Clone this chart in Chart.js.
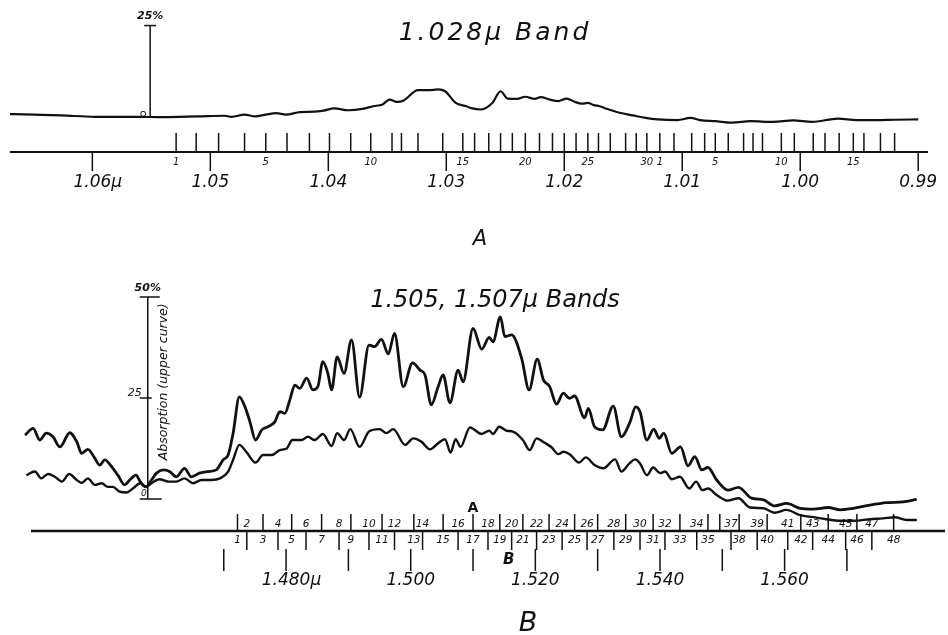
<!DOCTYPE html>
<html>
<head>
<meta charset="utf-8">
<script src="https://cdn.jsdelivr.net/npm/chart.js@4.4.1/dist/chart.umd.min.js"></script>
<style>
  body { margin: 0; background: #fff; width: 948px; height: 635px; overflow: hidden; }
  canvas { display: block; }
</style>
</head>
<body>
<canvas id="chartA" width="948" height="260"></canvas>
<canvas id="chartB" width="948" height="375"></canvas>
<script>
// ---- A: 1.028 micron band (wavelength in microns, absorption in %) ----
const aWave = [1.0675, 1.0649, 1.0626, 1.0598, 1.0563, 1.0540, 1.0511, 1.0488, 1.0482, 1.0471,
  1.0462, 1.0453, 1.0444, 1.0436, 1.0424, 1.0412, 1.0404, 1.0395, 1.0383, 1.0371,
  1.0362, 1.0354, 1.0348, 1.0342, 1.0336, 1.0324, 1.0315, 1.0307, 1.0301, 1.0292,
  1.0283, 1.0278, 1.0271, 1.0261, 1.0254, 1.0248, 1.0240, 1.0233, 1.0225, 1.0220,
  1.0212, 1.0205, 1.0198, 1.0191, 1.0185, 1.0180, 1.0175, 1.0170, 1.0164, 1.0153,
  1.0142, 1.0131, 1.0121, 1.0104, 1.0093, 1.0085, 1.0072, 1.0058, 1.0042, 1.0023,
  1.0006, 0.9990, 0.9968, 0.9952, 0.9936, 0.9920, 0.9900];
const aAbs = [0.8, 0.6, 0.4, 0.0, 0.0, -0.1, 0.1, 0.3, 0.0, 0.6,
  0.1, 0.6, 1.0, 0.6, 1.3, 1.4, 1.7, 2.3, 1.8, 2.2,
  2.9, 3.4, 4.7, 4.1, 4.5, 7.3, 7.3, 7.5, 7.0, 3.8,
  2.9, 2.3, 2.0, 3.8, 7.0, 5.0, 4.9, 5.5, 4.9, 5.4,
  4.7, 4.3, 5.0, 4.1, 3.6, 3.8, 3.2, 2.9, 2.2, 1.1,
  0.4, -0.3, -0.7, -0.9, -0.3, -0.9, -1.2, -1.6, -1.2, -1.4,
  -1.0, -1.4, -0.5, -0.9, -0.9, -0.8, -0.7];
const aLineNum = [1, 2, 3, 4, 5, 6, 7, 8, 9, 10, 11, 12, 13, 14, 15, 16, 17, 18, 19, 20,
  21, 22, 23, 24, 25, 26, 27, 28, 29, 30,
  1, 2, 3, 4, 5, 6, 7, 8, 9, 10, 11, 12, 13, 14, 15, 16, 17, 18];
const aLinePos = [1.0529, 1.0512, 1.0493, 1.0471, 1.0453, 1.0435, 1.0416, 1.0399, 1.0381, 1.0364,
  1.0346, 1.0338, 1.0324, 1.0303, 1.0286, 1.0276, 1.0264, 1.0254, 1.0244, 1.0233,
  1.0221, 1.0210, 1.0200, 1.0190, 1.0180, 1.0171, 1.0161, 1.0148, 1.0139, 1.0130,
  1.0119, 1.0107, 1.0092, 1.0081, 1.0072, 1.0061, 1.0048, 1.0040, 1.0032, 1.0016,
  1.0005, 0.9989, 0.9979, 0.9967, 0.9955, 0.9946, 0.9932, 0.9920];
const aTickValues = [1.06, 1.05, 1.04, 1.03, 1.02, 1.01, 1.00, 0.99];
const aTickLabels = ['1.06μ', '1.05', '1.04', '1.03', '1.02', '1.01', '1.00', '0.99'];
const aBarAt = 1.0551; // where the 25% scale bar stands

// ---- B: 1.505, 1.507 micron bands ----
const bUpWave = [1.4381, 1.4394, 1.4405, 1.4415, 1.4426, 1.4437, 1.4453, 1.4464, 1.4472, 1.4482,
  1.4493, 1.4501, 1.4509, 1.4520, 1.4530, 1.4541, 1.4549, 1.4559, 1.4566, 1.4575,
  1.4584, 1.4592, 1.4603, 1.4613, 1.4624, 1.4637, 1.4648, 1.4661, 1.4675, 1.4688,
  1.4699, 1.4707, 1.4715, 1.4725, 1.4734, 1.4742, 1.4751, 1.4761, 1.4771, 1.4782,
  1.4790, 1.4798, 1.4806, 1.4814, 1.4822, 1.4833, 1.4843, 1.4851, 1.4859, 1.4867,
  1.4873, 1.4882, 1.4893, 1.4905, 1.4918, 1.4933, 1.4942, 1.4953, 1.4964, 1.4974,
  1.4988, 1.5003, 1.5015, 1.5023, 1.5033, 1.5044, 1.5052, 1.5063, 1.5076, 1.5084,
  1.5100, 1.5114, 1.5126, 1.5132, 1.5144, 1.5151, 1.5162, 1.5178, 1.5190, 1.5203,
  1.5213, 1.5223, 1.5234, 1.5245, 1.5255, 1.5263, 1.5279, 1.5285, 1.5295, 1.5308,
  1.5325, 1.5338, 1.5352, 1.5361, 1.5368, 1.5379, 1.5390, 1.5399, 1.5406, 1.5419,
  1.5433, 1.5445, 1.5456, 1.5467, 1.5477, 1.5491, 1.5509, 1.5526, 1.5547, 1.5566,
  1.5584, 1.5603, 1.5625, 1.5646, 1.5670, 1.5689, 1.5710, 1.5737, 1.5764, 1.5790,
  1.5812];
const bUpper = [15.8, 17.5, 14.6, 16.3, 15.4, 12.9, 16.4, 14.2, 11.3, 12.3,
  10.1, 8.4, 9.7, 8.0, 5.9, 3.5, 4.7, 5.9, 4.3, 3.0,
  4.7, 6.4, 7.2, 6.8, 5.5, 7.6, 5.5, 6.4, 6.8, 7.2,
  9.7, 10.9, 16.3, 25.3, 22.8, 19.1, 14.6, 17.1, 17.9, 19.1,
  21.6, 21.2, 24.5, 28.2, 27.4, 29.9, 27.0, 27.8, 34.0, 31.1,
  27.0, 35.2, 31.1, 39.4, 25.2, 38.1, 37.7, 39.5, 35.9, 41.0,
  27.8, 33.7, 31.9, 30.7, 23.3, 27.8, 30.7, 23.8, 31.9, 29.0,
  42.2, 37.1, 40.0, 38.9, 45.1, 40.2, 40.6, 34.8, 27.0, 34.6,
  29.5, 27.8, 23.5, 26.2, 24.9, 25.5, 20.1, 22.4, 17.9, 17.1,
  23.0, 15.4, 19.1, 22.8, 21.6, 14.6, 17.3, 15.0, 16.3, 11.3,
  12.9, 8.2, 10.5, 7.2, 7.8, 4.7, 2.2, 2.9, 0.2, -0.2,
  -1.7, -1.1, -2.3, -2.5, -2.1, -2.7, -2.3, -1.5, -0.9, -0.7,
  -0.1];
const bLoWave = [1.4383, 1.4397, 1.4407, 1.4418, 1.4429, 1.4440, 1.4452, 1.4464, 1.4472, 1.4482,
  1.4493, 1.4504, 1.4514, 1.4522, 1.4533, 1.4544, 1.4554, 1.4566, 1.4575, 1.4584,
  1.4597, 1.4611, 1.4624, 1.4637, 1.4651, 1.4664, 1.4680, 1.4694, 1.4707, 1.4715,
  1.4725, 1.4736, 1.4751, 1.4763, 1.4777, 1.4790, 1.4801, 1.4810, 1.4825, 1.4835,
  1.4846, 1.4859, 1.4873, 1.4882, 1.4893, 1.4903, 1.4918, 1.4933, 1.4950, 1.4961,
  1.4972, 1.4991, 1.5004, 1.5017, 1.5031, 1.5044, 1.5055, 1.5064, 1.5072, 1.5080,
  1.5095, 1.5114, 1.5126, 1.5132, 1.5142, 1.5154, 1.5164, 1.5180, 1.5191, 1.5202,
  1.5215, 1.5226, 1.5237, 1.5245, 1.5255, 1.5270, 1.5281, 1.5295, 1.5309, 1.5328,
  1.5338, 1.5351, 1.5360, 1.5368, 1.5379, 1.5389, 1.5400, 1.5408, 1.5419, 1.5432,
  1.5447, 1.5458, 1.5468, 1.5477, 1.5491, 1.5509, 1.5526, 1.5544, 1.5566, 1.5584,
  1.5603, 1.5625, 1.5646, 1.5667, 1.5689, 1.5710, 1.5737, 1.5758, 1.5777, 1.5796,
  1.5812];
const bLower = [5.9, 6.8, 5.1, 6.2, 5.5, 4.3, 6.2, 4.7, 4.0, 5.1,
  3.5, 3.9, 3.0, 3.0, 1.8, 1.6, 2.6, 3.9, 3.0, 3.9,
  4.9, 4.3, 4.3, 5.1, 3.9, 4.7, 4.7, 5.1, 6.8, 9.7,
  13.4, 11.7, 9.0, 10.9, 10.9, 12.1, 12.5, 14.6, 14.6, 15.4,
  14.6, 16.1, 13.1, 16.3, 14.6, 17.3, 12.9, 16.7, 17.3, 16.3,
  17.3, 13.4, 15.0, 14.2, 12.3, 13.8, 14.8, 11.5, 14.8, 12.9,
  17.7, 16.1, 16.9, 16.1, 17.9, 16.9, 16.7, 14.6, 12.1, 15.0,
  13.9, 12.8, 11.1, 11.7, 11.1, 9.0, 10.3, 8.4, 7.6, 9.8,
  6.8, 8.8, 9.8, 8.8, 5.9, 7.8, 6.4, 6.8, 4.9, 5.5,
  2.6, 4.3, 2.2, 2.6, 1.0, -0.4, 0.2, -2.1, -2.3, -3.4,
  -2.7, -4.0, -4.5, -5.0, -5.4, -5.4, -5.0, -4.8, -4.5, -5.2,
  -5.2];
const bLineLabels = ['1', '2', '3', '4', '5', '6', '7', '8', '9', '10', '11', '12', '13', '14', '15', '16',
  '17', '18', '19', '20', '21', '22', '23', '24', '25', '26', '27', '28', '29', '30', '31', '32',
  '33', '34', '35', '', '37', '38', '39', '40', '41', '42', '43', '44', '45', '46', '47', '48'];
const bLinePos = [1.4722, 1.4737, 1.4763, 1.4787, 1.4809, 1.4832, 1.4857, 1.4885, 1.4904, 1.4933,
  1.4954, 1.4974, 1.5005, 1.5019, 1.5052, 1.5076, 1.5100, 1.5124, 1.5143, 1.5162,
  1.5180, 1.5202, 1.5222, 1.5243, 1.5263, 1.5283, 1.5300, 1.5326, 1.5345, 1.5368,
  1.5389, 1.5408, 1.5432, 1.5459, 1.5477, 1.5496, 1.5514, 1.5527, 1.5556, 1.5572,
  1.5605, 1.5626, 1.5645, 1.5670, 1.5698, 1.5716, 1.5740, 1.5775];
// u = tick drawn above the line (label below), d = tick below (label above)
const bLineSide = ('ud'.repeat(17) + 'uu' + 'du'.repeat(6)).split('');
const bTickValues = [1.47, 1.48, 1.49, 1.50, 1.51, 1.52, 1.53, 1.54, 1.55, 1.56, 1.57];
const bTickLabels = ['', '1.480μ', '', '1.500', '', '1.520', '', '1.540', '', '1.560', ''];
const bBarAt = 1.4578;

const INK = '#111';
const HAND = '"DejaVu Sans", sans-serif';

function seg(ctx, x1, y1, x2, y2) {
  ctx.beginPath();
  ctx.moveTo(x1, y1);
  ctx.lineTo(x2, y2);
  ctx.stroke();
}

function write(ctx, s, x, y, font, align) {
  ctx.font = font + ' ' + HAND;
  ctx.textAlign = align || 'center';
  ctx.textBaseline = 'middle';
  ctx.fillText(s, x, y);
}

// centre the number on the tick, the unit sign just trails it
function writeOnTick(ctx, s, x, y, font) {
  ctx.font = font + ' ' + HAND;
  const w = ctx.measureText(s.replace('μ', '')).width;
  ctx.textAlign = 'left';
  ctx.textBaseline = 'middle';
  ctx.fillText(s, x - w / 2, y);
}

const scaleA = {
  id: 'scaleA',
  afterDraw(chart) {
    const ctx = chart.ctx, xs = chart.scales.x, ys = chart.scales.y;
    const axisY = 152;
    ctx.save();
    ctx.strokeStyle = INK;
    ctx.fillStyle = INK;
    ctx.lineWidth = 2;
    seg(ctx, xs.left, axisY, xs.right - 2, axisY);
    ctx.lineWidth = 1.5;
    aLinePos.forEach((w, i) => {
      const px = xs.getPixelForValue(w);
      seg(ctx, px, axisY - 19, px, axisY);
      const n = aLineNum[i];
      if (n === 1 || n % 5 === 0) write(ctx, String(n), px, axisY + 10, 'italic 10px');
    });
    aTickValues.forEach((w, i) => {
      const px = xs.getPixelForValue(w);
      seg(ctx, px, axisY, px, axisY + 19);
      writeOnTick(ctx, aTickLabels[i], px, axisY + 31, 'italic 17px');
    });
    // 25% scale bar
    const bx = xs.getPixelForValue(aBarAt);
    const y0 = ys.getPixelForValue(0), y25 = ys.getPixelForValue(25);
    ctx.lineWidth = 1.5;
    seg(ctx, bx, y0, bx, y25);
    seg(ctx, bx - 6, y25, bx + 6, y25);
    write(ctx, '25%', bx, y25 - 9, 'bold italic 11px');
    ctx.lineWidth = 1;
    ctx.beginPath();
    ctx.arc(bx - 7, y0 - 3, 2.5, 0, Math.PI * 2);
    ctx.stroke();
    ctx.letterSpacing = '3px';
    write(ctx, '1.028μ Band', 495, 33, 'italic 25px');
    ctx.letterSpacing = '0px';
    write(ctx, 'A', 480, 240, 'italic 21px');
    ctx.restore();
  }
};

const scaleB = {
  id: 'scaleB',
  afterDraw(chart) {
    const ctx = chart.ctx, xs = chart.scales.x, ys = chart.scales.y;
    const axisY = 271;
    ctx.save();
    ctx.strokeStyle = INK;
    ctx.fillStyle = INK;
    ctx.lineWidth = 2.5;
    seg(ctx, xs.left + 11, axisY, xs.right - 1, axisY);
    ctx.lineWidth = 1.5;
    bLinePos.forEach((w, i) => {
      const px = xs.getPixelForValue(w);
      if (bLineSide[i] === 'u') {
        seg(ctx, px, axisY - 17, px, axisY);
        write(ctx, bLineLabels[i], px, axisY + 9, 'italic 10.5px');
      } else {
        seg(ctx, px, axisY, px, axisY + 19);
        write(ctx, bLineLabels[i], px, axisY - 7, 'italic 10.5px');
      }
    });
    bTickValues.forEach((w, i) => {
      const px = xs.getPixelForValue(w);
      seg(ctx, px, axisY + 18, px, axisY + 40);
      if (bTickLabels[i]) writeOnTick(ctx, bTickLabels[i], px, axisY + 50, 'italic 17px');
    });
    const pA = xs.getPixelForValue(bLinePos[bLineLabels.indexOf('17')]);
    write(ctx, 'A', pA, axisY - 23, 'bold 14px');
    const pB = xs.getPixelForValue(bLinePos[bLineLabels.indexOf('20')]);
    write(ctx, 'B', pB - 3, axisY + 29, 'bold italic 15px');
    // absorption scale bar
    const bx = xs.getPixelForValue(bBarAt);
    const y0 = ys.getPixelForValue(0), y25 = ys.getPixelForValue(25), y50 = ys.getPixelForValue(50);
    seg(ctx, bx, y0, bx, y50);
    seg(ctx, bx - 8, y50, bx + 12, y50);
    seg(ctx, bx - 8, y25, bx + 4, y25);
    seg(ctx, bx - 8, y0, bx + 14, y0);
    write(ctx, '50%', bx, y50 - 9, 'bold italic 11px');
    write(ctx, '25', bx - 6, y25 - 5, 'italic 11px', 'right');
    write(ctx, '0', bx - 4, y0 - 5, 'italic 9px');
    ctx.save();
    ctx.translate(bx + 16, ys.getPixelForValue(29));
    ctx.rotate(-Math.PI / 2);
    write(ctx, 'Absorption (upper curve)', 0, 0, 'italic 12.5px');
    ctx.restore();
    write(ctx, '1.505, 1.507μ Bands', 495, 41, 'italic 24px');
    write(ctx, 'B', 528, 364, 'italic 27px');
    ctx.restore();
  }
};

const bare = {
  responsive: false,
  animation: false,
  events: [],
  plugins: { legend: { display: false }, tooltip: { enabled: false }, title: { display: false } }
};

new Chart(document.getElementById('chartA'), {
  type: 'line',
  data: {
    datasets: [{
      data: aWave.map((w, i) => ({ x: w, y: aAbs[i] })),
      borderColor: INK,
      borderWidth: 2.2,
      pointRadius: 0,
      cubicInterpolationMode: 'monotone',
      fill: false
    }]
  },
  options: Object.assign({}, bare, {
    layout: { padding: { left: 10, right: 18, top: 0, bottom: 130.4 } },
    scales: {
      x: { type: 'linear', reverse: true, min: 0.98900, max: 1.06698, display: false },
      y: { type: 'linear', min: -3.5, max: 32, display: false }
    }
  }),
  plugins: [scaleA]
});

new Chart(document.getElementById('chartB'), {
  type: 'line',
  data: {
    datasets: [{
      label: 'Upper curve',
      data: bUpWave.map((w, i) => ({ x: w, y: bUpper[i] })),
      borderColor: INK,
      borderWidth: 2.8,
      pointRadius: 0,
      cubicInterpolationMode: 'monotone',
      fill: false
    }, {
      label: 'Lower curve',
      data: bLoWave.map((w, i) => ({ x: w, y: bLower[i] })),
      borderColor: INK,
      borderWidth: 2.4,
      pointRadius: 0,
      cubicInterpolationMode: 'monotone',
      fill: false
    }]
  },
  options: Object.assign({}, bare, {
    layout: { padding: { left: 20, right: 2, top: 5, bottom: 104 } },
    scales: {
      x: { type: 'linear', min: 1.4373, max: 1.5859, display: false },
      y: { type: 'linear', min: -7.92, max: 57.92, display: false }
    }
  }),
  plugins: [scaleB]
});
</script>
</body>
</html>
